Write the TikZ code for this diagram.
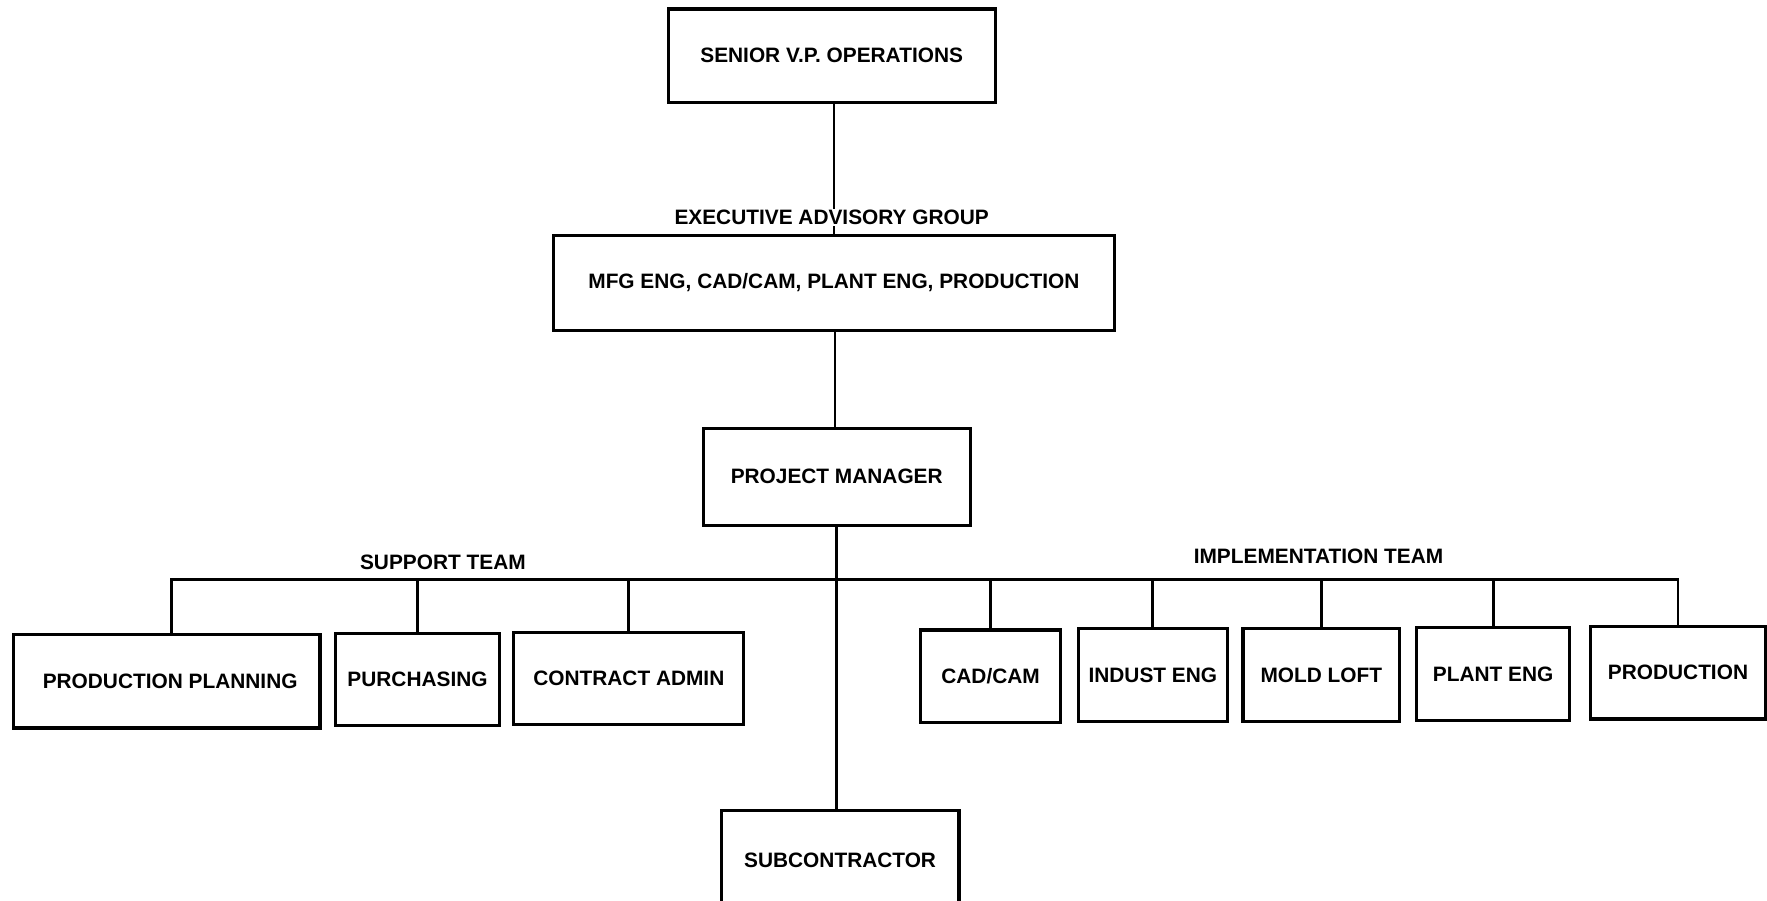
\documentclass[tikz,border=0pt]{standalone}
\usepackage{fontspec}
\setmainfont{Liberation Sans}
\begin{document}
\begin{tikzpicture}[x=1pt,y=-1pt,
  orgbox/.style={draw,line width=2.8pt,inner sep=0pt,font=\bfseries\fontsize{18.5}{20}\selectfont,align=center},
  lbl/.style={inner sep=1pt,font=\bfseries\fontsize{18.5}{20}\selectfont},
  conn/.style={line width=2.5pt}]
\useasboundingbox (0,0) rectangle (1568,799);
\clip (0,0) rectangle (1568,799);
% boxes
\node[orgbox,minimum width=290pt,minimum height=83pt] (s) at (738,49.5) {SENIOR V.P. OPERATIONS};
\node[orgbox,minimum width=498pt,minimum height=84pt] (m) at (740,251) {MFG ENG, CAD/CAM, PLANT ENG, PRODUCTION};
\node[orgbox,minimum width=237pt,minimum height=86pt] (pm) at (742.5,423) {PROJECT MANAGER};
\node[orgbox,minimum width=272pt,minimum height=83pt] (pp) at (148,604.5) {\hspace*{6pt}PRODUCTION PLANNING};
\node[orgbox,minimum width=145pt,minimum height=82pt] (pu) at (370.5,603) {PURCHASING};
\node[orgbox,minimum width=204pt,minimum height=82pt] (ca) at (558,602) {CONTRACT ADMIN};
\node[orgbox,minimum width=124pt,minimum height=82pt] (cc) at (879,600) {CAD/CAM};
\node[orgbox,minimum width=132pt,minimum height=82pt] (ie) at (1023,599) {INDUST ENG};
\node[orgbox,minimum width=139pt,minimum height=82pt] (ml) at (1172.5,599) {MOLD LOFT};
\node[orgbox,minimum width=136pt,minimum height=82pt] (pe) at (1325,598) {PLANT ENG};
\node[orgbox,minimum width=156pt,minimum height=82pt] (pr) at (1489,597) {PRODUCTION};
\node[orgbox,minimum width=211pt,minimum height=92pt] (sub) at (745.5,765) {\raisebox{4pt}{SUBCONTRACTOR}};
\coordinate (bus) at (742,514);
% connectors
\draw[conn] (s.south) ++(2,0) coordinate (st0) -- (st0 |- m.north);
\node[lbl,fill=white] (eag) at (738,193) {EXECUTIVE ADVISORY GROUP};
\draw[conn] (m.south) ++(1,0) coordinate (mt0) -- (mt0 |- pm.north);
\draw[conn] (pm.south) -- (pm.south |- sub.north);
\draw[conn] (pp.north) ++(4,0) coordinate (pp0) -- (pp0 |- bus) -- (pr.north |- bus) -- (pr.north);
\foreach \b in {pu,ca,cc,ie,ml,pe}{\draw[conn] (\b.north) -- (\b.north |- bus);}
\node[lbl] (stl) at (393,499) {SUPPORT TEAM};
\node[lbl] (itl) at (1170,494) {IMPLEMENTATION TEAM};
\end{tikzpicture}
\end{document}
